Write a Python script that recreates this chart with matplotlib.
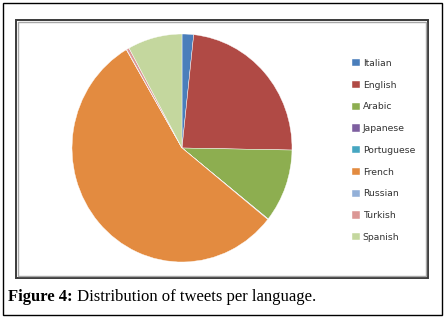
import matplotlib
matplotlib.use("Agg")
import matplotlib.pyplot as plt
from matplotlib.patches import Rectangle

languages = ["Italian", "English", "Arabic", "Japanese", "Portuguese",
             "French", "Russian", "Turkish", "Spanish"]
shares = [1.7, 23.6, 10.4, 0.05, 0.05, 55.8, 0.05, 0.4, 8.0]
colors = ["#4A7EBB", "#B04A45", "#8DAE50", "#7E5FA0", "#46A6C1",
          "#E38B40", "#93B0D8", "#DB9795", "#C4D79E"]
caption_bold = "Figure 4:"
caption_rest = " Distribution of tweets per language."

W, H = 445, 319
fig = plt.figure(figsize=(W / 100, H / 100), dpi=100)
fig.patch.set_facecolor("white")

def fx(px):
    return px / W

def fy(py):
    return 1 - py / H

# outer frame
fig.patches.append(Rectangle((fx(3), fy(315)), fx(439), (312) / H,
                             transform=fig.transFigure, fill=False,
                             edgecolor="black", linewidth=1.0))
# chart frame (dark outer + light inner line)
fig.patches.append(Rectangle((fx(16), fy(278)), fx(412), 258 / H,
                             transform=fig.transFigure, fill=False,
                             edgecolor="#3a3a3a", linewidth=1.4))
fig.patches.append(Rectangle((fx(17.8), fy(276.2)), fx(408.4), 254.4 / H,
                             transform=fig.transFigure, fill=False,
                             edgecolor="#a8a8a8", linewidth=1.0))

# pie axes: center (182,148), rx 110, ry 114
cx, cy, rx, ry = 182, 148, 110, 114
ax = fig.add_axes([fx(cx - rx), (H - cy - ry) / H, 2 * rx / W, 2 * ry / H])
wedges, _ = ax.pie(shares, colors=colors, startangle=90, counterclock=False,
                   radius=1.0, wedgeprops=dict(edgecolor="white", linewidth=0.3))
ax.set_aspect("auto")
ax.set_xlim(-1, 1)
ax.set_ylim(-1, 1)
ax.axis("off")

# legend
leg = fig.legend(wedges, languages, loc="upper left",
                 bbox_to_anchor=(fx(352), fy(59)), frameon=False,
                 prop=dict(family="DejaVu Sans", size=6.7),
                 handlelength=0.85, handleheight=0.85, handletextpad=0.3,
                 labelspacing=1.37, borderaxespad=0, borderpad=0)
for t in leg.get_texts():
    t.set_color("#333333")

# caption
t1 = fig.text(fx(8), fy(297), caption_bold, fontsize=12, fontweight="bold",
              family="Liberation Serif", va="center", ha="left")
fig.canvas.draw()
bb = t1.get_window_extent()
fig.text(bb.x1 / W, fy(297), caption_rest, fontsize=12,
         family="Liberation Serif", va="center", ha="left")

fig.savefig("out.png", dpi=100)
